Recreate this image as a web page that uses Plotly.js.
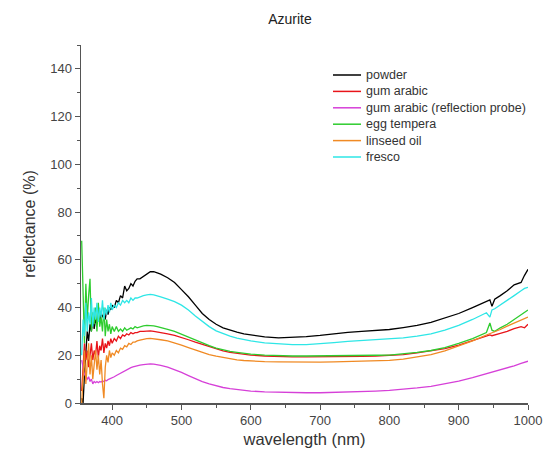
<!DOCTYPE html>
<html>
<head>
<meta charset="utf-8">
<script src="https://cdn.plot.ly/plotly-3.0.1.min.js"></script>
<style>html,body{margin:0;padding:0;background:#fff;}#chart{width:545px;height:464px;}</style>
</head>
<body>
<div id="chart"></div>
<script>
const wavelength = [356,358,360,362,364,366,368,370,372,374,376,378,380,382,384,386,388,390,392,394,396,398,400,
  403,406,409,412,415,418,421,424,427,430,433,436,
  440,445,450,455,460,465,470,
  480,490,500,510,520,530,540,550,560,570,580,590,600,
  620,640,660,680,700,720,740,760,780,800,820,840,860,880,900,920,940,
  945,948,952,960,970,980,990,995,1000];

const powder = [2,0,12,22,30,26,33,30,36,31,35,33,36,34,38,36,37,35,39,37,40,39,41,
  40,43,42,45,44,49,47,48,50,49,51,52,
  52,53,54,55,55,54.5,54,
  52.5,50.5,47.5,44.5,41,37.5,35,33,31.5,30.5,29.7,29,28.5,
  27.7,27.3,27.4,27.8,28.3,29,29.6,30,30.3,30.8,31.6,32.5,33.8,35.5,37.5,40,42.8,
  43.2,40.5,43.5,45,47,49.5,50.5,53.5,56];

const gumArabic = [5,15,25,18,22,15,20,25,18,22,20,26,19,24,22,27,21,25,23,26,24,27,25,
  27,26,28,27,28.5,28,29,28.5,29.5,29,29.5,29.5,
  30,30,30.2,30.2,30,29.8,29.5,
  29,28.3,27.5,26.5,25.5,24.5,23.5,22.6,21.8,21.2,20.8,20.4,20.1,
  19.7,19.4,19.3,19.3,19.3,19.3,19.4,19.5,19.7,19.9,20.3,21,21.8,22.8,24.2,26,27.8,
  28.5,28.2,28.6,29.2,30,31.2,32,31.5,33];

const gumArabicProbe = [18,14,12,11,10,11,9,10,8,9,8.5,9,8.5,9,8.8,9.2,9,9.5,9.3,9.8,10,10.3,10.5,
  11,11.5,12,12.5,13,13.5,14,14.4,14.8,15.1,15.4,15.7,
  15.9,16.1,16.3,16.4,16.3,16.1,15.8,
  15,14,12.8,11.5,10.2,9,8,7.2,6.5,6,5.6,5.2,5,
  4.7,4.5,4.4,4.3,4.3,4.4,4.6,4.8,5,5.3,5.7,6.3,7,8,9.2,10.6,12.2,
  12.6,12.8,13.1,13.8,14.7,15.6,16.6,17,17.5];

const eggTempera = [68,40,25,50,35,45,52,30,38,33,40,30,42,32,36,30,40,28,35,30,33,29,32,
  30,32,30,31,30,31.5,30.5,31,31.5,31,32,31.5,
  32,32.3,32.5,32.5,32.3,32,31.5,
  30.8,30,28.8,27.5,26.2,25,24,23,22.2,21.6,21.2,20.8,20.5,
  20.1,19.8,19.7,19.7,19.7,19.7,19.8,19.8,20,20.1,20.5,21.2,22,23.2,25,27,29.5,
  33.5,30.5,30,31.5,33,35,37,38,39];

const linseedOil = [0,10,22,8,18,25,12,20,10,17,22,14,20,12,18,8,2,15,20,17,22,19,21,
  20,22,21,23,22.5,24,23.5,25,24.5,25.5,25.5,26,
  26.3,26.7,27,27.1,27,26.8,26.5,
  26,25.2,24.2,23.2,22.2,21.2,20.3,19.6,19,18.5,18.1,17.8,17.6,
  17.3,17.2,17.1,17.1,17.1,17.2,17.3,17.4,17.6,17.9,18.4,19.2,20.3,21.8,23.8,26,28.5,
  29,29.3,29.8,30.8,32.2,33.5,35,35.5,36];

const fresco = [20,35,28,42,30,38,33,44,32,40,35,42,34,40,36,43,35,40,37,41,38,42,39,
  41,40,42,41,43,42,43,42,44,43,44,44,
  44.5,45,45.3,45.5,45.3,45,44.5,
  43.5,42.5,41,39,36.5,34.2,32,30.2,29,28,27.2,26.5,26,
  25.2,24.8,24.5,24.5,24.8,25.3,25.8,26.2,26.5,26.8,27.3,28,29,30.5,32.5,35,37.8,
  36,39,39.5,41,43,45,47,48,48.5];

const seriesNames = ["powder","gum arabic","gum arabic (reflection probe)","egg tempera","linseed oil","fresco"];
const seriesValues = [powder, gumArabic, gumArabicProbe, eggTempera, linseedOil, fresco];
const seriesColors = ["#000000","#e8141a","#d640d8","#2ecc2e","#f08a24","#2ee6e6"];

const traces = seriesNames.map((n, i) => ({
  x: wavelength, y: seriesValues[i], name: n, type: 'scatter', mode: 'lines',
  line: {color: seriesColors[i], width: 1.3}, showlegend: false
}));

// Legend drawn as paper-positioned shapes + text (compact row spacing like the original)
const W = 545, H = 464, M = {l: 81, r: 17, t: 45, b: 61};
const pw = W - M.l - M.r, ph = H - M.t - M.b;
const px = v => (v - M.l) / pw;
const py = v => (H - M.b - v) / ph;
const legTop = 75, legStep = 16.4, legX0 = 333, legX1 = 361, legTextX = 364;
const shapes = [], annotations = [];
seriesNames.forEach((n, i) => {
  const yy = py(legTop + i * legStep);
  shapes.push({type: 'line', xref: 'paper', yref: 'paper', x0: px(legX0), x1: px(legX1), y0: yy, y1: yy,
    line: {color: seriesColors[i], width: 1.5}});
  annotations.push({xref: 'paper', yref: 'paper', x: px(legTextX), y: yy, xanchor: 'left', yanchor: 'middle',
    text: n, showarrow: false, font: {family: "Liberation Sans, Arial, sans-serif", size: 12.5, color: '#333'}});
});

const font = "Liberation Sans, Arial, sans-serif";
const layout = {
  width: W, height: H,
  margin: M,
  paper_bgcolor: '#fff', plot_bgcolor: '#fff',
  font: {family: font, color: '#333', size: 12},
  title: {text: 'Azurite', x: 0.532, xref: 'container', y: 0.958, yref: 'container', yanchor: 'middle',
    font: {family: font, size: 14, color: '#222'}},
  showlegend: false,
  shapes: shapes,
  annotations: annotations,
  xaxis: {range: [355, 1000], tickvals: [400,500,600,700,800,900,1000], ticks: 'outside', ticklen: 5,
    tickcolor: '#555', showline: true, linecolor: '#555', linewidth: 1.5, showgrid: false, zeroline: false,
    tickfont: {size: 13, color: '#444'},
    minor: {tickvals: [450,550,650,750,850,950], ticks: 'outside', ticklen: 3, tickcolor: '#555', showgrid: false},
    title: {text: 'wavelength (nm)', font: {size: 16.5, color: '#333'}, standoff: 6}},
  yaxis: {range: [0, 150], tickvals: [0,20,40,60,80,100,120,140], ticks: 'outside', ticklen: 5,
    tickcolor: '#555', showline: true, linecolor: '#555', linewidth: 1.5, showgrid: false, zeroline: false,
    tickfont: {size: 13, color: '#444'},
    minor: {tickvals: [10,30,50,70,90,110,130,150], ticks: 'outside', ticklen: 3, tickcolor: '#555', showgrid: false},
    title: {text: 'reflectance (%)', font: {size: 16, color: '#333'}, standoff: 10}}
};

Plotly.newPlot('chart', traces, layout, {displayModeBar: false, staticPlot: true});
</script>
</body>
</html>
